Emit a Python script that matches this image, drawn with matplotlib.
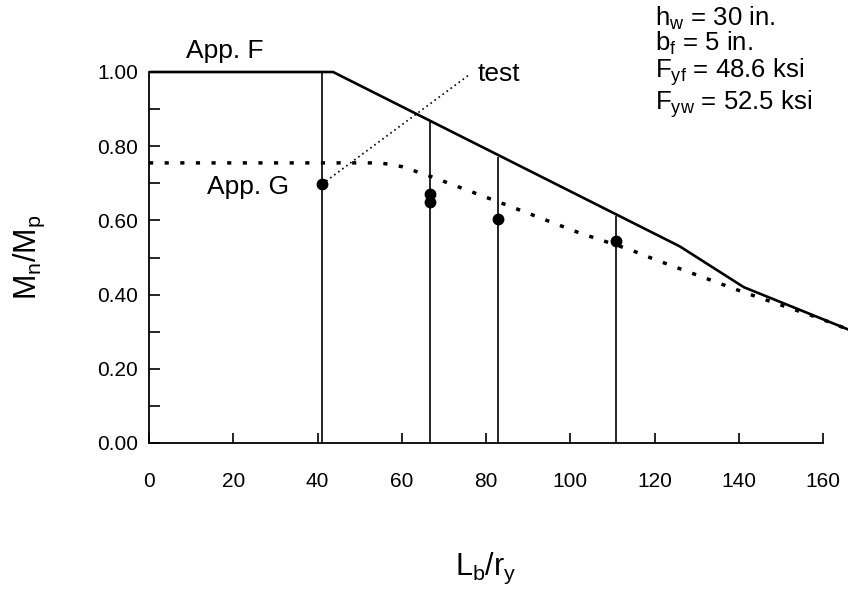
import matplotlib.pyplot as plt
from matplotlib.ticker import MultipleLocator

plt.rcParams['font.family'] = ['Liberation Sans', 'DejaVu Sans']

# App. F curve (Lb/ry, Mn/Mp)
app_f_x = [0, 43.7, 126, 141.2, 166.2]
app_f_y = [1.0, 1.0, 0.53, 0.42, 0.305]

# App. G curve
app_g_x = [0, 55, 60, 67, 85, 102, 114, 120, 141, 159, 166.2]
app_g_y = [0.755, 0.755, 0.745, 0.718, 0.641, 0.567, 0.522, 0.495, 0.407, 0.337, 0.305]

# test results
test_x = [41.1, 66.7, 66.7, 82.8, 110.8]
test_y = [0.698, 0.671, 0.650, 0.603, 0.545]

# vertical lines at tested lengths, up to App. F
vline_x = [41.1, 66.7, 82.8, 110.8]
vline_top = [1.0, 0.870, 0.770, 0.612]

# leader line to "test" label
leader_x = [41.1, 76.3]
leader_y = [0.698, 0.995]

fig = plt.figure(figsize=(8.48, 5.91), dpi=100)
ax = fig.add_axes([149 / 848, 1 - 443 / 591, 674 / 848, 371 / 591])

ax.plot(app_f_x, app_f_y, color='black', lw=1.9, clip_on=False, solid_capstyle='butt')
ax.plot(app_g_x, app_g_y, color='black', lw=2.5, dashes=(1.2, 3.3), clip_on=False)
ax.plot(leader_x, leader_y, color='black', lw=1.2, dashes=(1, 2.0))
ax.vlines(vline_x, 0, vline_top, color='black', lw=1.2)
ax.plot(test_x, test_y, 'o', color='black', ms=7.5)

ax.set_xlim(0, 160)
ax.set_ylim(0, 1.0)
ax.xaxis.set_major_locator(MultipleLocator(20))
ax.yaxis.set_major_locator(MultipleLocator(0.2))
ax.yaxis.set_minor_locator(MultipleLocator(0.1))
ax.set_yticklabels([f'{v:.2f}' for v in ax.get_yticks()])

for s in ['top', 'right']:
    ax.spines[s].set_visible(False)
for s in ['left', 'bottom']:
    ax.spines[s].set_linewidth(1.3)

ax.tick_params(axis='x', direction='in', length=7, width=1.2, pad=21, labelsize=15)
ax.tick_params(axis='y', which='both', direction='in', length=8, width=1.2, pad=8, labelsize=15)

ax.set_xlabel(r'L$_\mathregular{b}$/r$_\mathregular{y}$', fontsize=22, labelpad=43)
ax.set_ylabel(r'M$_\mathregular{n}$/M$_\mathregular{p}$', fontsize=22, labelpad=36)

ax.text(18, 1.025, 'App. F', fontsize=19, ha='center', va='bottom')
ax.text(23.5, 0.69, 'App. G', fontsize=19, ha='center', va='center')
ax.text(78, 0.995, 'test', fontsize=19, ha='left', va='center')

fig.text(655 / 848, 1 - 18 / 591, r'h$_\mathregular{w}$ = 30 in.', fontsize=18.5, va='center')
fig.text(655 / 848, 1 - 43 / 591, r'b$_\mathregular{f}$ = 5 in.', fontsize=18.5, va='center')
fig.text(655 / 848, 1 - 72 / 591, r'F$_\mathregular{yf}$ = 48.6 ksi', fontsize=18.5, va='center')
fig.text(655 / 848, 1 - 104 / 591, r'F$_\mathregular{yw}$ = 52.5 ksi', fontsize=18.5, va='center')

fig.savefig('out.png', dpi=100)
